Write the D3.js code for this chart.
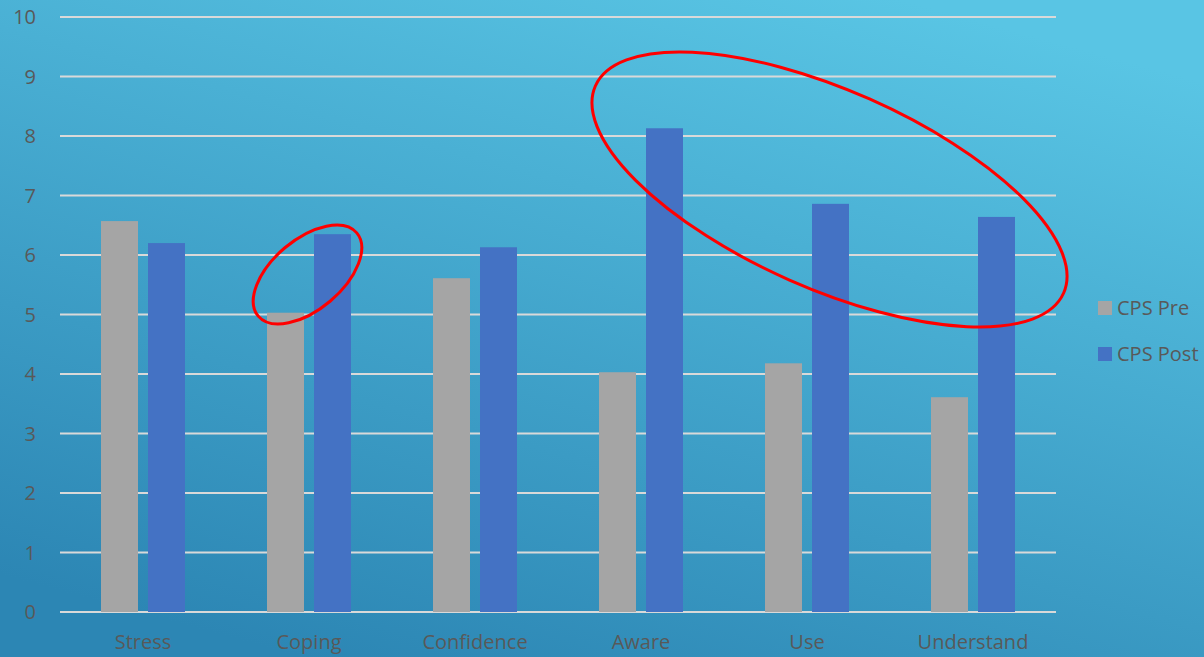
<!DOCTYPE html>
<html lang="en">
<head>
  <meta charset="UTF-8" />
  <title>CPS Pre / Post</title>
  <style>
    body { margin: 0; overflow: hidden; }
    svg { display: block; }
    text { font-family: "Open Sans", sans-serif; fill: #595959; }
  </style>
</head>
<body>
  <div id="chart"></div>

  <script src="https://d3js.org/d3.v7.min.js"></script>
  <script>
    const categories = ["Stress", "Coping", "Confidence", "Aware", "Use", "Understand"];
    const seriesNames = ["CPS Pre", "CPS Post"];
    const preValues = [6.57, 5.03, 5.61, 4.03, 4.18, 3.61];
    const postValues = [6.2, 6.35, 6.13, 8.13, 6.86, 6.64];
    const yTicks = [0, 1, 2, 3, 4, 5, 6, 7, 8, 9, 10];

    const width = 1204, height = 657;
    const margin = { left: 60, right: 148, top: 17, bottom: 45 };
    const colors = ["#a5a5a5", "#4472c4"];

    const svg = d3.select("#chart").append("svg")
      .attr("width", width).attr("height", height);

    // background gradient
    const defs = svg.append("defs");
    const grad = defs.append("linearGradient").attr("id", "bg")
      .attr("x1", "0.75").attr("y1", "0").attr("x2", "0.25").attr("y2", "1");
    grad.append("stop").attr("offset", "0%").attr("stop-color", "#59c5e4");
    grad.append("stop").attr("offset", "100%").attr("stop-color", "#2c86b4");
    svg.append("rect").attr("width", width).attr("height", height).attr("fill", "url(#bg)");

    const x = d3.scaleBand()
      .domain(categories)
      .range([margin.left, width - margin.right])
      .paddingInner(0).paddingOuter(0);

    const xInner = d3.scaleBand()
      .domain(seriesNames)
      .range([41, x.bandwidth() - 41])
      .paddingInner(10 / 47);

    const y = d3.scaleLinear().domain([0, 10]).range([height - margin.bottom, margin.top]);

    // gridlines
    svg.append("g")
      .selectAll("line")
      .data(yTicks)
      .enter()
      .append("line")
      .attr("x1", margin.left).attr("x2", width - margin.right)
      .attr("y1", d => y(d)).attr("y2", d => y(d))
      .attr("stroke", "#d9d9d9").attr("stroke-width", 2);

    // y labels
    svg.append("g")
      .selectAll("text")
      .data(yTicks)
      .enter()
      .append("text")
      .attr("x", 36)
      .attr("y", d => y(d))
      .attr("dy", "0.35em")
      .attr("text-anchor", "end")
      .attr("font-size", "20px")
      .text(d => d);

    // bars
    const rows = categories.map((c, i) => ({ cat: c, vals: [preValues[i], postValues[i]] }));
    const groups = svg.append("g")
      .selectAll("g")
      .data(rows)
      .enter()
      .append("g")
      .attr("transform", d => `translate(${x(d.cat)},0)`);

    groups.selectAll("rect")
      .data(d => d.vals.map((v, j) => ({ name: seriesNames[j], v, j })))
      .enter()
      .append("rect")
      .attr("x", d => xInner(d.name))
      .attr("width", xInner.bandwidth())
      .attr("y", d => y(d.v))
      .attr("height", d => y(0) - y(d.v))
      .attr("fill", d => colors[d.j]);

    // x labels
    svg.append("g")
      .selectAll("text")
      .data(categories)
      .enter()
      .append("text")
      .attr("x", d => x(d) + x.bandwidth() / 2)
      .attr("y", 649)
      .attr("text-anchor", "middle")
      .attr("font-size", "20px")
      .text(d => d);

    // legend
    const legend = svg.append("g")
      .selectAll("g")
      .data(seriesNames)
      .enter()
      .append("g")
      .attr("transform", (d, i) => `translate(1098,${308 + i * 46})`);
    legend.append("rect")
      .attr("x", 0).attr("y", -7).attr("width", 14).attr("height", 14)
      .attr("fill", (d, i) => colors[i]);
    legend.append("text")
      .attr("x", 19).attr("dy", "0.35em")
      .attr("font-size", "20px")
      .text(d => d);

    // red annotation ellipses
    const ellipses = [
      { cx: 307.5, cy: 274.5, rx: 64.5, ry: 35, rot: -40.2 },
      { cx: 829.5, cy: 189.5, rx: 256, ry: 99, rot: 23.85 }
    ];
    svg.append("g")
      .selectAll("ellipse")
      .data(ellipses)
      .enter()
      .append("ellipse")
      .attr("transform", d => `translate(${d.cx},${d.cy}) rotate(${d.rot})`)
      .attr("rx", d => d.rx).attr("ry", d => d.ry)
      .attr("fill", "none").attr("stroke", "#ff0000").attr("stroke-width", 3);
  </script>
</body>
</html>
